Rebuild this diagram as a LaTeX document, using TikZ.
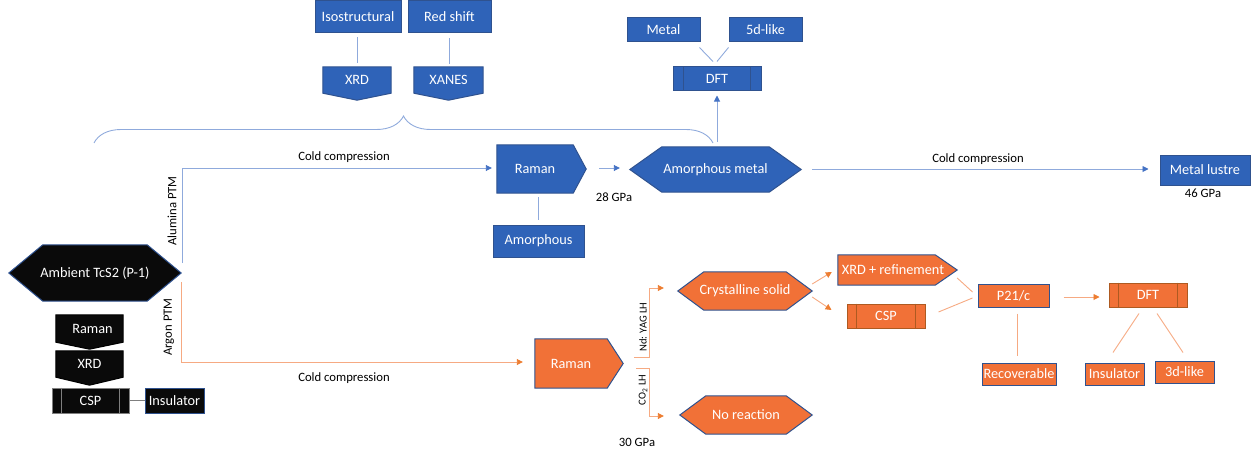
\documentclass[tikz,border=0pt]{standalone}
\usepackage{fontspec}
\setmainfont{Carlito}
\usetikzlibrary{arrows.meta,calc,backgrounds,decorations.pathreplacing}
\definecolor{bFill}{RGB}{47,99,184}
\definecolor{bBord}{RGB}{47,82,143}
\definecolor{bLine}{RGB}{143,170,220}
\definecolor{bArr}{RGB}{68,114,196}
\definecolor{oFill}{RGB}{241,113,55}
\definecolor{oBord}{RGB}{174,90,33}
\definecolor{oLine}{RGB}{246,170,130}
\definecolor{oArr}{RGB}{237,125,49}
\definecolor{kBord}{RGB}{127,127,127}
\definecolor{kFill}{RGB}{10,10,10}
\newcommand{\nodefnt}{\fontsize{14.3}{17}\selectfont}
\newcommand{\labfnt}{\fontsize{12.7}{15}\selectfont}
\newcommand{\smallfnt}{\fontsize{10.6}{12}\selectfont}
\newcommand{\hexag}[3]{\path[#3] (#1.west) -- ([xshift=#2pt]#1.north west) -- ([xshift=-#2pt]#1.north east) -- (#1.east) -- ([xshift=-#2pt]#1.south east) -- ([xshift=#2pt]#1.south west) -- cycle;}
\newcommand{\penteast}[3]{\path[#3] (#1.north west) -- (#1.north east) -- ([xshift=#2pt]#1.east) -- (#1.south east) -- (#1.south west) -- cycle;}
\newcommand{\pentsouth}[3]{\path[#3] (#1.north west) -- (#1.north east) -- (#1.south east) -- ([yshift=-#2pt]#1.south) -- (#1.south west) -- cycle;}
\newcommand{\procl}[3]{\draw[#3, line width=1pt] ([xshift=#2pt]#1.north west) -- ([xshift=#2pt]#1.south west); \draw[#3, line width=1pt] ([xshift=-#2pt]#1.north east) -- ([xshift=-#2pt]#1.south east);}
\tikzset{
  txt/.style={inner sep=0pt, text=white, font=\nodefnt},
  sz/.style 2 args={minimum width=#1pt, minimum height=#2pt},
  bbox/.style={txt, draw=bBord, fill=bFill, line width=1pt},
  obox/.style={txt, draw=bBord, fill=oFill, line width=1pt},
  oproc/.style={txt, draw=oBord, fill=oFill, line width=1pt},
  kproc/.style={txt, draw=kBord, fill=kFill, line width=1pt},
  kbox/.style={txt, draw=bBord, fill=kFill, line width=1pt},
  bshape/.style={draw=bBord, fill=bFill, line width=1pt},
  oshape/.style={draw=bBord, fill=oFill, line width=1pt},
  kshape/.style={draw=black, fill=kFill, line width=1pt},
  kshapeb/.style={draw=bBord, fill=kFill, line width=1pt},
  bline/.style={draw=bLine, line width=0.9pt},
  barrow/.style={bline, -{Triangle[length=6pt,width=6pt,color=bArr]}},
  oline/.style={draw=oLine, line width=0.9pt},
  oarrow/.style={oline, -{Triangle[length=6pt,width=6pt,color=oArr]}},
  lab/.style={inner sep=0pt, font=\labfnt, text=black}
}
\begin{document}
\begin{tikzpicture}[x=1pt,y=-1pt]
\useasboundingbox (0,0) rectangle (1251,452);
% blue branch
\node[bbox, sz={86}{32}] (iso) at (358,17) {Isostructural};
\node[bbox, sz={83}{32}] (red) at (449.5,17) {Red shift};
\node[txt, sz={68}{26}] (xrdT) at (357,80) {XRD};
\node[txt, sz={69}{26}] (xanes) at (448.5,80) {XANES};
\node[bbox, sz={73}{24}] (metal) at (663.5,30) {Metal};
\node[bbox, sz={73}{24}] (fived) at (765.5,30) {5d-like};
\node[bbox, sz={88}{24}] (dftB) at (717,79) {DFT};
\node[txt, sz={76}{48}] (ramanB) at (535,169) {Raman};
\node[txt, sz={171}{45}] (amB) at (715.5,169.5) {Amorphous metal};
\node[bbox, sz={91}{32}] (amorph) at (538.5,241) {Amorphous};
\node[bbox, sz={90}{30}] (lustre) at (1205,170) {Metal lustre};
% black
\node[txt, sz={172}{56}] (amb) at (95,273) {Ambient TcS2 (P-1)};
\node[txt, sz={67}{27}] (ramK) at (89.5,328.5) {\makebox[0pt]{\hspace{6pt}Raman}};
\node[txt, sz={67}{26}] (xrdK) at (89.5,364) {XRD};
\node[kproc, sz={77}{25}] (cspK) at (90.5,400.5) {CSP};
\node[kbox, sz={59}{25}] (insK) at (174.5,400.5) {Insulator};
% orange
\node[txt, sz={72}{49}] (ramO) at (571,363.5) {Raman};
\node[txt, sz={134}{38}] (cryst) at (745,291) {Crystalline solid};
\node[txt, sz={132}{38}] (noreac) at (746,415) {No reaction};
\node[txt, sz={97}{30}] (xrdref) at (886.5,270) {\makebox[0pt]{\hspace{13pt}XRD + refinement}};
\node[oproc, sz={78}{24}] (cspO) at (886,316) {CSP};
\node[obox, sz={71}{23}] (p21) at (1013.5,295.5) {P21/c};
\node[oproc, sz={78}{24}] (dftO) at (1148,295) {DFT};
\node[obox, sz={74}{22}] (recov) at (1019,374) {Recoverable};
\node[obox, sz={59}{22}] (insO) at (1114.5,374) {Insulator};
\node[obox, sz={59}{22}] (threed) at (1184.5,372) {3d-like};
% shapes
\begin{scope}[on background layer]
\pentsouth{xrdT}{7}{bshape}
\pentsouth{xanes}{7}{bshape}
\penteast{ramanB}{13}{bshape}
\hexag{amB}{32}{bshape}
\hexag{amb}{34}{kshapeb}
\pentsouth{ramK}{7}{kshape}
\pentsouth{xrdK}{8}{kshape}
\penteast{ramO}{16}{oshape}
\hexag{cryst}{26}{oshape}
\hexag{noreac}{26}{oshape}
\penteast{xrdref}{22}{oshape}
\end{scope}
\procl{dftB}{11}{bBord}
\procl{cspK}{10}{kBord}
\procl{cspO}{10}{oBord}
\procl{dftO}{10}{oBord}
% labels
\node[lab] (cc1) at (344,157) {Cold compression};
\node[lab, rotate=90] (alu) at (172,211) {Alumina PTM};
\node[lab, rotate=90] (arg) at (169,327) {Argon PTM};
\node[lab] (cc2) at (344,378) {Cold compression};
\node[lab] (g28) at (614,197) {28 GPa};
\node[lab] (cc3) at (978,159) {Cold compression};
\node[lab] (g46) at (1203,193) {46 GPa};
\node[lab, font=\smallfnt, rotate=90] (ndyag) at (643,327) {Nd: YAG LH};
\node[lab, font=\smallfnt, rotate=90] (co2) at (643,390) {CO\textsubscript{2} LH};
\node[lab] (g30) at (637,442) {30 GPa};
% brace
\coordinate (brL) at (94,143);
\coordinate (brR) at (713,143);
\draw[bline, decorate, decoration={brace, amplitude=27pt}] (brL) -- (brR);
% blue connectors
\draw[bline] ($(iso.south)+(-1,4)$) -- ($(iso.south |- xrdT.north)+(-1,-4)$);
\draw[bline] ($(red.south)+(0,5)$) -- ($(red.south |- xanes.north)+(0,-3)$);
\draw[bline] ($(metal.south east)+(-1,5)$) -- ($(dftB.north)+(-4,-5)$);
\draw[bline] ($(fived.south west)+(0,5)$) -- ($(dftB.north)+(0,-5)$);
\draw[barrow] ($(dftB.south |- amB.north)+(0,-5)$) -- ($(dftB.south)+(0,4)$);
\draw[barrow] ($(amb.east)+(1,-10)$) |- ($(ramanB.west)+(-5,-1)$);
\draw[barrow] ($(ramanB.east)+(26,-1)$) -- ($(amB.west)+(-10,-1.5)$);
\draw[bline] ($(amorph.north)+(0,-5)$) -- ($(amorph.north |- ramanB.south)+(0,4)$);
\draw[barrow] ($(amB.east)+(11,-0.5)$) -- ($(lustre.west)+(-11,-1)$);
% black connector
\draw[draw=kBord, line width=1pt] (cspK.east) -- (insK.west);
% orange connectors
\draw[oarrow] ($(amb.east)+(0,9)$) |- ($(ramO.west)+(-12,-1.5)$);
\coordinate (ramOtip) at ($(ramO.east)+(16,0)$);
\draw[oarrow] ($(ramOtip)+(11,-6)$) -- ++(15,0) |- ($(cryst.west)+(-14,-3)$);
\draw[oarrow] ($(ramOtip)+(13,5)$) -- ++(13,0) |- ($(noreac.west)+(-16,1)$);
\draw[oarrow] ($(cryst.east)+(0,-7)$) -- ($(xrdref.west)+(-6,2)$);
\draw[oarrow] ($(cryst.east)+(0,6)$) -- ($(cspO.west)+(-15,-6)$);
\draw[oline] ($(xrdref.east)+(22,8)$) -- ($(p21.west)+(-5,-3.5)$);
\draw[oline] ($(cspO.east)+(13,-4)$) -- ($(p21.west)+(-5,2.5)$);
\draw[oarrow] ($(p21.east)+(14,1.5)$) -- ($(dftO.west)+(-9,2)$);
\draw[oline] ($(p21.south)+(3.5,6)$) -- ($(recov.north)+(-2,-7)$);
\draw[oline] ($(dftO.south)+(-9,6)$) -- ($(insO.north)+(-1.5,-10)$);
\draw[oline] ($(dftO.south)+(9,6)$) -- ($(threed.north)+(-1.5,-8)$);
\end{tikzpicture}
\end{document}
